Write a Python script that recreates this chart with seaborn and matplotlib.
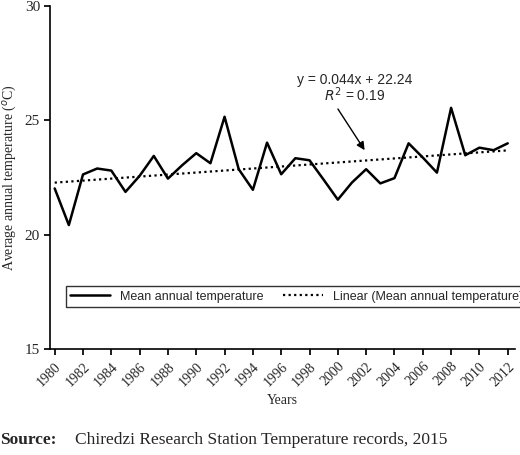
import matplotlib
matplotlib.use("Agg")
import matplotlib.pyplot as plt
import seaborn as sns
import numpy as np
import pandas as pd

years = list(range(1980, 2013))
temps = [22.03, 20.43, 22.64, 22.90, 22.81, 21.88, 22.58, 23.45, 22.46, 23.04,
         23.57, 23.13, 25.16, 22.87, 21.97, 24.03, 22.65, 23.35, 23.26, 22.41,
         21.54, 22.29, 22.87, 22.25, 22.48, 24.00, 23.38, 22.72, 25.55, 23.48,
         23.81, 23.70, 24.00]
slope, intercept = 0.044, 22.24

sns.set_theme(style="white")
plt.rcParams['font.family'] = ['Liberation Serif', 'DejaVu Serif']

df = pd.DataFrame({"Year": years, "Temp": temps})
df["Trend"] = intercept + slope * np.arange(1, len(years) + 1)

fig = plt.figure(figsize=(5.2, 4.55), dpi=100)
ax = fig.add_axes([0.097, 0.232, 0.893, 0.755])
sns.lineplot(data=df, x="Year", y="Temp", ax=ax, color="black", lw=1.8,
             label="Mean annual temperature")
sns.lineplot(data=df, x="Year", y="Trend", ax=ax, color="black", lw=1.6,
             linestyle=(0, (1, 1.5)), label="Linear (Mean annual temperature)")
ax.set_ylim(15, 30)
ax.set_xlim(1979.7, 2012.5)
ax.set_yticks([15, 20, 25, 30])
ax.set_xticks(years[::2])
ax.set_xticklabels([str(y) for y in years[::2]], rotation=45, ha="right",
                   rotation_mode="anchor", fontsize=10)
ax.tick_params(axis="y", labelsize=11)
for s in ["top", "right"]:
    ax.spines[s].set_visible(False)
for s in ["left", "bottom"]:
    ax.spines[s].set_color("black")
    ax.spines[s].set_linewidth(1.2)
ax.tick_params(left=True, bottom=True, direction="out", length=4, color="black")
ax.set_xlabel("Years", fontsize=10)
ax.set_ylabel("Average annual temperature ($^o$C)", fontsize=10)
leg = ax.legend(loc="center", bbox_to_anchor=(0.53, 0.154), ncol=2,
                frameon=True, fancybox=False, edgecolor="black",
                prop={"family": "Liberation Sans", "size": 9},
                handlelength=3.2, columnspacing=1.5, borderpad=0.35)
leg.get_frame().set_linewidth(1.0)
ax.text(2001.2, 26.6, "y = 0.044x + 22.24", ha="center", fontsize=10,
        family="Liberation Sans")
ax.text(2001.2, 25.85, "$R^2$ = 0.19", ha="center", fontsize=10,
        family="Liberation Sans")
ax.annotate("", xy=(2002.0, 23.6), xytext=(1999.9, 25.6),
            arrowprops=dict(arrowstyle="-|>", color="black", lw=1))
fig.text(0.0, 0.025, "Source:", fontsize=12.5, ha="left", weight="bold")
fig.text(0.145, 0.025, "Chiredzi Research Station Temperature records, 2015",
         fontsize=12.5, ha="left")
fig.savefig("out.png", dpi=100)
